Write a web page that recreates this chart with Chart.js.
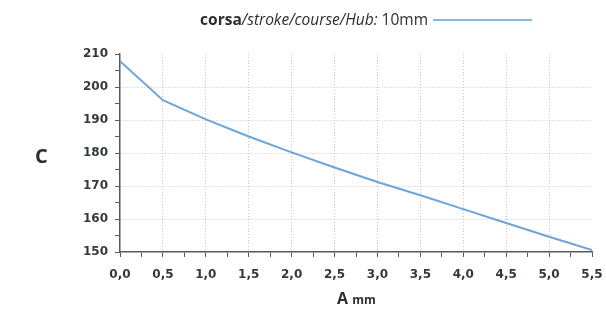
<!DOCTYPE html>
<html>
<head>
<meta charset="utf-8">
<script src="https://cdn.jsdelivr.net/npm/chart.js@4"></script>
<style>
  html, body { margin: 0; padding: 0; background: #fff; }
  #wrap { position: relative; width: 606px; height: 311px; font-family: "Open Sans", sans-serif; color: #2b2f33; }
  #legend { position: absolute; right: 74px; top: 8px; font-size: 15.5px; white-space: nowrap; display: flex; align-items: center; }
  #legend b { font-weight: 700; }
  #legend i { font-style: italic; }
  #legend .swatch { display: inline-block; width: 99px; height: 2px; background: #86b6ea; margin-left: 5px; margin-top: 2px; }
  #ytitle { position: absolute; left: 35px; top: 142px; font-size: 20px; font-weight: 700; }
  #xtitle { position: absolute; left: 337px; top: 287px; font-weight: 700; white-space: nowrap; }
  #xtitle .big { font-size: 16px; }
  #xtitle .small { font-size: 12px; }
</style>
</head>
<body>
<div id="wrap">
  <canvas id="chart" width="606" height="311"></canvas>
  <div id="legend"><span><b>corsa</b><i>/stroke/course/Hub:</i> 10mm</span><span class="swatch"></span></div>
  <div id="ytitle">C</div>
  <div id="xtitle"><span class="big">A</span> <span class="small">mm</span></div>
</div>
<script>
const strokeMm = [0, 0.5, 1.0, 1.5, 2.0, 2.5, 3.0, 3.5, 4.0, 4.5, 5.0, 5.5];
const cValues = [207.8, 196, 190.2, 185, 180.2, 175.6, 171.2, 167.2, 163, 158.8, 154.6, 150.6];
const seriesLabel = "corsa/stroke/course/Hub: 10mm";

const tickFont = { family: "Verdana, 'DejaVu Sans', sans-serif", size: 12, weight: "bold" };
const tickColor = "#33383c";
const gridColor = "#c4c8cb";
const axisColor = "#555a5e";

const ctx = document.getElementById("chart").getContext("2d");
new Chart(ctx, {
  type: "line",
  data: {
    datasets: [
      {
        label: seriesLabel,
        data: strokeMm.map((x, i) => ({ x: x, y: cValues[i] })),
        borderColor: "#6ea4dc",
        borderWidth: 2,
        pointRadius: 0,
        fill: false,
        tension: 0,
      },
    ],
  },
  options: {
    responsive: false,
    animation: { duration: 0 },
    layout: { padding: { left: 0, right: 14, top: 54, bottom: 0 } },
    plugins: { legend: { display: false }, tooltip: { enabled: false } },
    scales: {
      x: {
        type: "linear",
        min: 0,
        max: 5.5,
        afterFit: (scale) => {
          scale.height = 59;
          scale.paddingLeft = 0;
          scale.paddingRight = 0;
        },
        ticks: {
          stepSize: 0.25,
          autoSkip: false,
          maxRotation: 0,
          padding: 11,
          color: tickColor,
          font: tickFont,
          callback: (v) => (Math.round(v * 4) % 2 === 0 ? v.toFixed(1).replace(".", ",") : ""),
        },
        grid: {
          color: (c) => {
            const v = c.tick ? c.tick.value : 0;
            if (Math.round(v * 4) % 2 !== 0 || v === 0 || v === 5.5) return "rgba(0,0,0,0)";
            return gridColor;
          },
          tickBorderDash: [],
          tickColor: axisColor,
          tickLength: 5,
        },
        border: { color: axisColor, width: 1.5, dash: [1, 2] },
      },
      y: {
        min: 150,
        max: 210,
        afterFit: (scale) => {
          scale.width = 120;
          scale.paddingTop = 0;
          scale.paddingBottom = 0;
        },
        ticks: {
          stepSize: 5,
          autoSkip: false,
          padding: 7,
          color: tickColor,
          font: tickFont,
          callback: (v) => (v % 10 === 0 ? String(v) : ""),
        },
        grid: {
          color: (c) => {
            const v = c.tick ? c.tick.value : 0;
            if (v % 10 !== 0 || v === 150 || v === 210) return "rgba(0,0,0,0)";
            return gridColor;
          },
          tickBorderDash: [],
          tickColor: axisColor,
          tickLength: 5,
        },
        border: { color: axisColor, width: 1.5, dash: [1, 2] },
      },
    },
  },
});
</script>
</body>
</html>
